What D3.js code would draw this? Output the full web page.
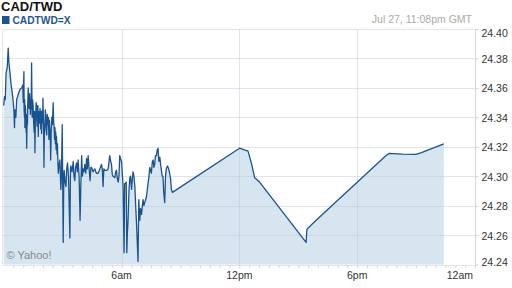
<!DOCTYPE html>
<html>
<head>
<meta charset="utf-8">
<script src="https://cdn.jsdelivr.net/npm/d3@7"></script>
<style>
  body { margin: 0; background: #fff; }
  svg { display: block; font-family: Arial, "Liberation Sans", sans-serif; }
</style>
</head>
<body>
<svg id="chart" width="512" height="288"></svg>
<script>
// hours since midnight GMT
var hours = [0.00,0.04,0.08,0.12,0.18,0.23,0.26,0.32,0.38,0.46,0.52,0.55,0.57,0.62,0.66,0.75,0.83,0.92,0.97,
  1.00,1.02,1.03,1.04,1.06,1.07,1.08,1.10,1.12,1.14,
  1.15,1.17,1.19,1.21,1.23,1.25,1.27,1.30,1.32,1.34,
  1.36,1.38,1.40,1.42,1.44,1.45,1.47,1.50,1.52,1.55,
  1.57,1.59,1.61,1.63,1.65,1.68,1.70,1.72,1.74,1.76,
  1.78,1.80,1.83,1.85,1.87,1.89,1.91,1.93,1.95,1.97,
  1.99,2.00,2.03,2.05,2.07,2.10,2.12,2.15,2.17,2.19,
  2.22,2.25,2.28,2.30,2.33,2.35,2.37,2.39,2.42,2.45,
  2.48,2.52,2.54,2.56,2.59,2.61,2.63,2.65,2.67,2.69,
  2.72,2.74,2.76,
  2.78,2.82,2.86,2.91,2.94,2.98,3.03,3.06,3.08,3.12,3.17,3.21,3.25,3.30,3.37,3.40,3.42,3.48,3.54,3.58,
  3.62,3.66,3.71,3.75,3.79,3.84,3.89,3.93,3.97,4.01,4.05,4.09,4.13,4.18,4.22,4.26,4.30,4.35,4.40,4.44,
  4.47,4.55,4.64,4.72,4.81,4.90,4.98,5.02,5.06,5.10,5.15,5.25,5.32,5.40,5.45,5.49,5.53,5.57,5.66,5.70,
  5.74,5.79,5.83,5.87,5.91,5.95,6.00,6.04,6.08,6.13,6.16,6.20,6.24,6.27,6.30,6.33,6.38,6.42,6.46,6.51,
  6.55,6.59,6.63,6.68,6.72,6.76,6.81,6.84,6.88,6.93,6.97,7.02,7.06,7.10,7.14,7.18,7.27,7.35,7.40,7.44,
  7.48,7.52,7.57,7.61,7.65,7.69,7.73,7.78,7.82,7.86,7.90,7.95,7.99,8.03,8.07,8.11,8.15,8.20,8.24,8.28,
  8.34,8.40,8.45,8.50,8.54,8.59,12.01,12.22,12.44,12.61,12.78,13.03,15.40,15.44,15.91,19.47,19.64,20.30,21.00,21.27,
  22.41];
// CAD/TWD rate
var rates = [24.348,24.354,24.352,24.370,24.374,24.387,24.378,24.370,24.362,24.354,24.345,24.333,24.345,24.340,24.352,24.356,24.359,24.360,24.362,
  24.350,24.366,24.371,24.345,24.340,24.352,24.333,24.348,24.345,24.330,
  24.342,24.319,24.338,24.335,24.352,24.360,24.348,24.346,24.356,24.350,
  24.342,24.352,24.346,24.377,24.350,24.340,24.352,24.348,24.338,24.330,
  24.344,24.316,24.335,24.340,24.350,24.347,24.334,24.338,24.348,24.327,
  24.340,24.344,24.336,24.346,24.338,24.332,24.344,24.329,24.340,24.345,
  24.336,24.353,24.335,24.306,24.330,24.335,24.345,24.340,24.330,24.328,
  24.342,24.335,24.340,24.325,24.338,24.332,24.328,24.311,24.330,24.340,
  24.335,24.350,24.338,24.335,24.325,24.333,24.322,24.330,24.318,24.327,
  24.315,24.322,24.310,
  24.302,24.308,24.311,24.291,24.300,24.335,24.255,24.300,24.304,24.296,24.293,24.305,24.309,24.300,24.258,24.305,24.307,24.303,24.310,24.300,
  24.297,24.306,24.309,24.303,24.311,24.300,24.270,24.295,24.314,24.300,24.305,24.303,24.308,24.302,24.312,24.305,24.314,24.305,24.297,24.306,
  24.306,24.303,24.305,24.302,24.302,24.305,24.308,24.305,24.293,24.305,24.304,24.304,24.305,24.314,24.310,24.308,24.301,24.300,24.299,24.303,
  24.304,24.298,24.296,24.300,24.314,24.312,24.310,24.302,24.293,24.248,24.295,24.295,24.296,24.248,24.262,24.269,24.290,24.299,24.300,24.291,
  24.298,24.303,24.300,24.293,24.280,24.269,24.252,24.242,24.284,24.270,24.278,24.274,24.280,24.284,24.280,24.282,24.286,24.295,24.300,24.306,
  24.304,24.302,24.310,24.311,24.306,24.308,24.314,24.314,24.318,24.319,24.310,24.313,24.308,24.304,24.300,24.300,24.289,24.282,24.300,24.305,
  24.307,24.305,24.302,24.298,24.291,24.289,24.319,24.318,24.317,24.309,24.299,24.296,24.255,24.264,24.270,24.314,24.3155,24.315,24.3148,24.316,
  24.322];

var yTicks = [24.24, 24.26, 24.28, 24.30, 24.32, 24.34, 24.36, 24.38, 24.40];
var xTicks = [6, 12, 18, 24];
var xTickLabels = ["6am", "12pm", "6pm", "12am"];

var title = "CAD/TWD";
var seriesName = "CADTWD=X";
var stamp = "Jul 27, 11:08pm GMT";

var data = hours.map(function(h, i) { return {h: h, v: rates[i]}; });

// plot area
var plotLeft = 3.7, plotRight = 475, plotTop = 29, plotBottom = 264.5;

var x = d3.scaleLinear().domain([0, 24]).range([plotLeft, plotRight]);
var y = d3.scaleLinear().domain([24.24, 24.40]).range([plotBottom, plotTop]);

var svg = d3.select("#chart");

// border of plot (top + left)
svg.append("path")
    .attr("d", "M2.5," + plotBottom + "V" + (plotTop + 0.5) + "H" + plotRight)
    .attr("fill", "none")
    .attr("stroke", "#e4e6ec");

// area fill
var area = d3.area()
    .x(function(d) { return x(d.h); })
    .y0(plotBottom)
    .y1(function(d) { return y(d.v); });

svg.append("path")
    .datum(data)
    .attr("d", area)
    .attr("fill", "#d6e5f0");

// horizontal grid
svg.append("g")
  .selectAll("line")
  .data(yTicks.slice(0, -1))
  .enter().append("line")
    .attr("x1", 2.5)
    .attr("x2", plotRight + 2)
    .attr("y1", function(d) { return Math.round(y(d)) + 0.5; })
    .attr("y2", function(d) { return Math.round(y(d)) + 0.5; })
    .attr("stroke", "rgba(190,196,215,0.45)");

// vertical grid
svg.append("g")
  .selectAll("line")
  .data(xTicks.slice(0, -1))
  .enter().append("line")
    .attr("x1", function(d) { return Math.round(x(d)) + 0.5; })
    .attr("x2", function(d) { return Math.round(x(d)) + 0.5; })
    .attr("y1", plotTop)
    .attr("y2", plotBottom + 3)
    .attr("stroke", "rgba(190,196,215,0.45)");

// line
var line = d3.line()
    .x(function(d) { return x(d.h); })
    .y(function(d) { return y(d.v); });

svg.append("path")
    .datum(data)
    .attr("d", line)
    .attr("fill", "none")
    .attr("stroke", "#1b5390")
    .attr("stroke-width", 1.3)
    .attr("stroke-linejoin", "round");

// right axis
var yAxis = svg.append("g")
    .attr("transform", "translate(" + (Math.round(plotRight) + 0.5) + ",0)")
    .call(d3.axisRight(y).tickValues(yTicks).tickSize(3).tickFormat(d3.format(".2f")));
yAxis.select(".domain").attr("stroke", "#d4d6dc").attr("d", "M0," + plotTop + "V" + (plotBottom + 4));
yAxis.selectAll(".tick line").attr("stroke", "#d4d6dc");
yAxis.selectAll("text")
    .attr("x", 6)
    .attr("dy", null)
    .attr("dominant-baseline", "central")
    .attr("y", function(d) { return Math.min(Math.max(y(d), 32), 261) - y(d); })
    .attr("fill", "#333")
    .style("font-size", "10.5px")
    .style("font-family", "Arial, 'Liberation Sans', sans-serif");

// bottom axis: half-hour minor ticks
var xAxis = svg.append("g")
    .attr("transform", "translate(0," + (plotBottom + 0.5) + ")")
    .call(d3.axisBottom(x).tickValues(d3.range(0.5, 24.01, 0.5)).tickSize(3).tickFormat(""));
xAxis.select(".domain").remove();
xAxis.selectAll(".tick line").attr("stroke", "#d4d6dc");

svg.append("g")
  .selectAll("text")
  .data(xTicks)
  .enter().append("text")
    .attr("x", function(d, i) { return d === 24 ? x(d) - 2 : x(d); })
    .attr("y", 278.5)
    .attr("text-anchor", function(d) { return d === 24 ? "end" : "middle"; })
    .attr("fill", "#333")
    .style("font-size", "10.5px")
    .text(function(d, i) { return xTickLabels[i]; });

// title + legend
svg.append("text")
    .attr("x", 1)
    .attr("y", 11)
    .attr("font-weight", "bold")
    .attr("fill", "#111")
    .style("font-size", "13px")
    .text(title);

svg.append("rect")
    .attr("x", 2)
    .attr("y", 16)
    .attr("width", 7.5)
    .attr("height", 8)
    .attr("fill", "#1b5390");

svg.append("text")
    .attr("x", 12.5)
    .attr("y", 24)
    .attr("font-weight", "bold")
    .attr("fill", "#1f5592")
    .style("font-size", "10.2px")
    .text(seriesName);

svg.append("text")
    .attr("x", 472)
    .attr("y", 23)
    .attr("text-anchor", "end")
    .attr("fill", "#aaa")
    .style("font-size", "10.5px")
    .text(stamp);

svg.append("text")
    .attr("x", 6.5)
    .attr("y", 259)
    .attr("fill", "#888")
    .style("font-size", "11px")
    .text("\u00a9 Yahoo!");
</script>
</body>
</html>
